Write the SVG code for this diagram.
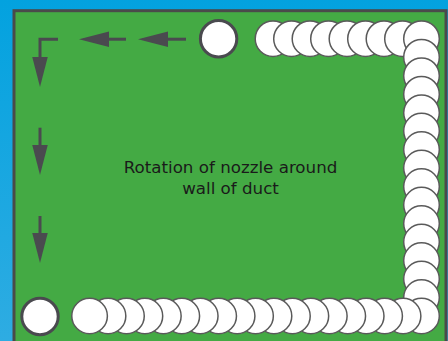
<svg xmlns="http://www.w3.org/2000/svg" width="448" height="341" viewBox="0 0 448 341">
  <defs>
    <linearGradient id="bg" x1="0" y1="0" x2="0" y2="1">
      <stop offset="0" stop-color="#03a2df"/>
      <stop offset="1" stop-color="#2eace2"/>
    </linearGradient>
    <marker id="head" markerUnits="userSpaceOnUse" markerWidth="31" markerHeight="16" refX="0" refY="7.75" orient="auto" viewBox="0 0 31 15.5">
      <path d="M0,0 L30,7.75 L0,15.5 Z" fill="#4a4a4f"/>
    </marker>
    <circle id="nz" r="17.8"/>
  </defs>
  <style>
    .duct { fill: #44aa44; stroke: #4a4a4a; stroke-width: 3; }
    .noz use, .noz circle { fill: #ffffff; stroke: #5a5a5a; stroke-width: 1.5; }
    .start circle { fill: #ffffff; stroke: #4a4a4f; stroke-width: 3; }
    .arr { fill: none; stroke: #4a4a4f; stroke-width: 3; marker-end: url(#head); }
    .lbl { font-family: "DejaVu Sans", "Liberation Sans", sans-serif; font-size: 16.7px; fill: #1a1a1a; text-anchor: middle; }
  </style>
  <rect x="0" y="0" width="448" height="341" fill="url(#bg)"/>
  <rect class="duct" x="14" y="10.7" width="432" height="345"/>

  <g id="start-top" class="start"><circle cx="218.6" cy="38.7" r="18.2"/></g>
  <g id="start-bottom" class="start"><circle cx="40" cy="316.5" r="18.2"/></g>

  <g id="nozzle-top-row" class="noz">
    <use href="#nz" x="273" y="38.7"/>
    <use href="#nz" x="291.5" y="38.7"/>
    <use href="#nz" x="310" y="38.7"/>
    <use href="#nz" x="328.5" y="38.7"/>
    <use href="#nz" x="347" y="38.7"/>
    <use href="#nz" x="365.5" y="38.7"/>
    <use href="#nz" x="384" y="38.7"/>
    <use href="#nz" x="402.5" y="38.7"/>
    <use href="#nz" x="421.5" y="38.7"/>
  </g>
  <g id="nozzle-right-column" class="noz">
    <use href="#nz" x="421.5" y="57.2"/>
    <use href="#nz" x="421.5" y="75.7"/>
    <use href="#nz" x="421.5" y="94.2"/>
    <use href="#nz" x="421.5" y="112.7"/>
    <use href="#nz" x="421.5" y="131.1"/>
    <use href="#nz" x="421.5" y="149.6"/>
    <use href="#nz" x="421.5" y="168.1"/>
    <use href="#nz" x="421.5" y="186.6"/>
    <use href="#nz" x="421.5" y="205.1"/>
    <use href="#nz" x="421.5" y="223.6"/>
    <use href="#nz" x="421.5" y="242.1"/>
    <use href="#nz" x="421.5" y="260.6"/>
    <use href="#nz" x="421.5" y="279.0"/>
    <use href="#nz" x="421.5" y="297.5"/>
    <use href="#nz" x="421.5" y="316"/>
  </g>
  <g id="nozzle-bottom-row" class="noz">
    <use href="#nz" x="403.06" y="316"/>
    <use href="#nz" x="384.62" y="316"/>
    <use href="#nz" x="366.18" y="316"/>
    <use href="#nz" x="347.74" y="316"/>
    <use href="#nz" x="329.3" y="316"/>
    <use href="#nz" x="310.86" y="316"/>
    <use href="#nz" x="292.42" y="316"/>
    <use href="#nz" x="273.98" y="316"/>
    <use href="#nz" x="255.54" y="316"/>
    <use href="#nz" x="237.1" y="316"/>
    <use href="#nz" x="218.66" y="316"/>
    <use href="#nz" x="200.22" y="316"/>
    <use href="#nz" x="181.78" y="316"/>
    <use href="#nz" x="163.34" y="316"/>
    <use href="#nz" x="144.9" y="316"/>
    <use href="#nz" x="126.46" y="316"/>
    <use href="#nz" x="108.02" y="316"/>
    <use href="#nz" x="89.58" y="316"/>
  </g>

  <g id="connectors">
    <path class="arr" d="M186,39.2 H168"/>
    <path class="arr" d="M126,39.2 H109"/>
    <path class="arr" d="M58,39.2 H40 V57"/>
    <path class="arr" d="M40,127.7 V145"/>
    <path class="arr" d="M40,216 V233"/>
  </g>

  <g id="label">
    <text class="lbl" x="230.5" y="173.3">Rotation of nozzle around</text>
    <text class="lbl" x="230.5" y="194.3">wall of duct</text>
  </g>
</svg>
